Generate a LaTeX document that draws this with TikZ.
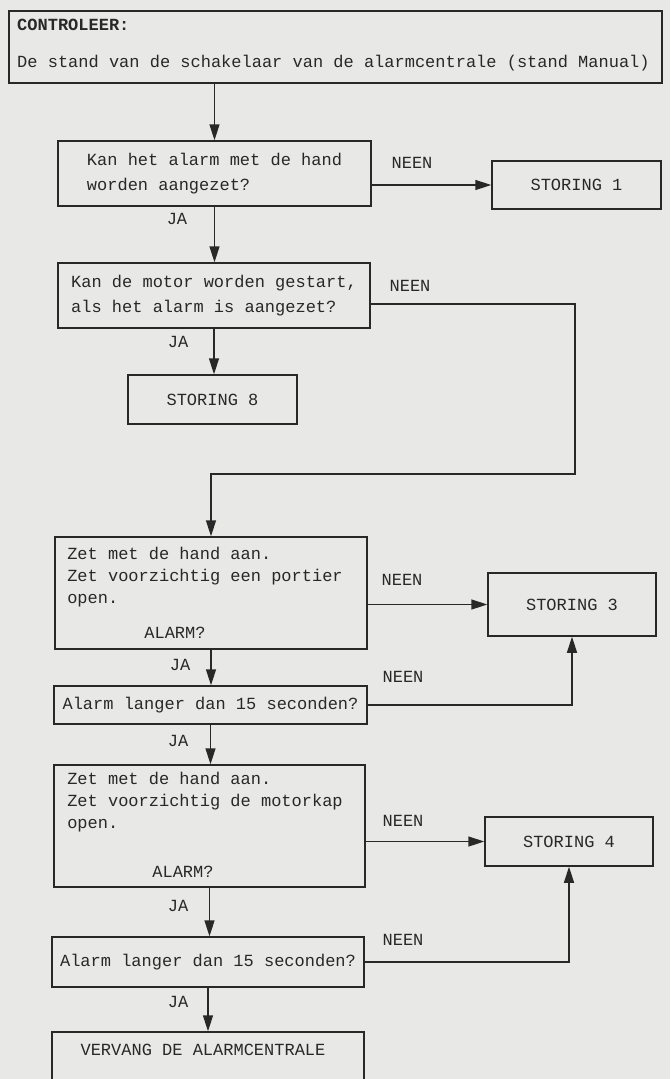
\documentclass[tikz,border=0pt]{standalone}
\usepackage{fontspec}
\newfontfamily\tw{Liberation Mono}
\usetikzlibrary{arrows.meta}
\definecolor{paper}{RGB}{232,232,230}
\definecolor{ink}{RGB}{40,40,40}
\begin{document}
\begin{tikzpicture}[x=1pt,y=-1pt,
  box/.style={draw=ink, line width=1.5pt, inner sep=0pt, align=left,
    font=\tw\fontsize{17}{25}\selectfont, text=ink},
  lbl/.style={font=\tw\fontsize{17}{22}\selectfont, text=ink, inner sep=0pt, align=left},
  wire/.style={draw=ink, line width=1.5pt},
  arr/.style={wire, -{Triangle[length=16pt,width=10pt]}}
]
\fill[paper] (0,0) rectangle (670,1079);
\useasboundingbox (0,0) rectangle (670,1079);
\clip (0,0) rectangle (670,1079);

% top box
\node[box, minimum width=653pt, minimum height=72pt] (top) at (335.5,47) {};
\node[lbl, anchor=west] (ctl) at (17,25) {\bfseries CONTROLEER:};
\node[lbl, anchor=west] (stand) at (17,63) {De stand van de schakelaar van de alarmcentrale (stand Manual)};

% question 1
\node[box, minimum width=313pt, minimum height=65pt] (q1) at (214.5,173.5) {Kan het alarm met de hand\\worden aangezet?\vphantom{g}};
\node[box, minimum width=169pt, minimum height=48pt] (s1) at (576.5,185) {STORING 1};
\node[lbl] (n1) at (412,163) {NEEN};
\node[lbl] (ja1) at (177,219) {JA};

% question 2
\node[box, minimum width=312pt, minimum height=65pt] (q2) at (214,295.5) {Kan de motor worden gestart,\\als het alarm is aangezet?};
\node[lbl] (n2) at (410,286) {NEEN};
\node[lbl] (ja2) at (178,342) {JA};
\node[box, minimum width=169pt, minimum height=49pt] (s8) at (212.5,399.5) {STORING 8};

% question 3
\node[box, minimum width=312pt, minimum height=112pt] (q3) at (211,593) {};
\node[lbl] (t3) at (205,577) {Zet met de hand aan.\\Zet voorzichtig een portier\\open.};
\node[lbl] (a3) at (175,633) {ALARM?};
\node[lbl] (n3) at (402,580) {NEEN};
\node[box, minimum width=168pt, minimum height=63pt] (s3) at (572,604.5) {STORING 3};
\node[lbl] (ja3) at (180,665) {JA};

% question 4
\node[box, minimum width=313pt, minimum height=38pt] (q4) at (210.5,705) {Alarm langer dan 15 seconden?};
\node[lbl] (n4) at (403,677) {NEEN};
\node[lbl] (ja4) at (178,741) {JA};

% question 5
\node[box, minimum width=311pt, minimum height=122pt] (q5) at (209.5,826) {};
\node[lbl] (t5) at (205,802) {Zet met de hand aan.\\Zet voorzichtig de motorkap\\open.};
\node[lbl] (a5) at (183,872) {ALARM?};
\node[lbl] (n5) at (403,821) {NEEN};
\node[box, minimum width=168pt, minimum height=49pt] (s4) at (569,841.5) {STORING 4};
\node[lbl] (ja5) at (178,906) {JA};

% question 6
\node[box, minimum width=312pt, minimum height=50pt] (q6) at (208,962) {Alarm langer dan 15 seconden?};
\node[lbl] (n6) at (403,940) {NEEN};
\node[lbl] (ja6) at (178,1002) {JA};

% final
\node[box, minimum width=312pt, minimum height=68pt] (fin) at (208,1066) {};
\node[lbl] (tf) at (203,1050) {VERVANG DE ALARMCENTRALE};

% connectors
\coordinate (r2) at (575,304);
\coordinate (j2) at (0,474);
\draw[arr] (q1.north |- top.south) -- (q1.north);
\draw[arr] (q1.east |- s1.west) -- (s1.west);
\draw[arr] (q1.south) -- (q1.south |- q2.north);
\draw[arr] (q2.south) -- (q2.south |- s8.north);
\draw[arr] (q2.east |- r2) -- (r2) |- (q3.north |- j2) -- (q3.north);
\draw[arr] (q3.east |- s3.west) -- (s3.west);
\draw[arr] (q3.south) -- (q3.south |- q4.north);
\draw[arr] (q4.east) -| (s3.south);
\draw[arr] (q4.south) -- (q4.south |- q5.north);
\draw[arr] (q5.east |- s4.west) -- (s4.west);
\draw[arr] (q5.south) -- (q5.south |- q6.north);
\draw[arr] (q6.east) -| (s4.south);
\draw[arr] (q6.south) -- (q6.south |- fin.north);
\end{tikzpicture}
\end{document}
